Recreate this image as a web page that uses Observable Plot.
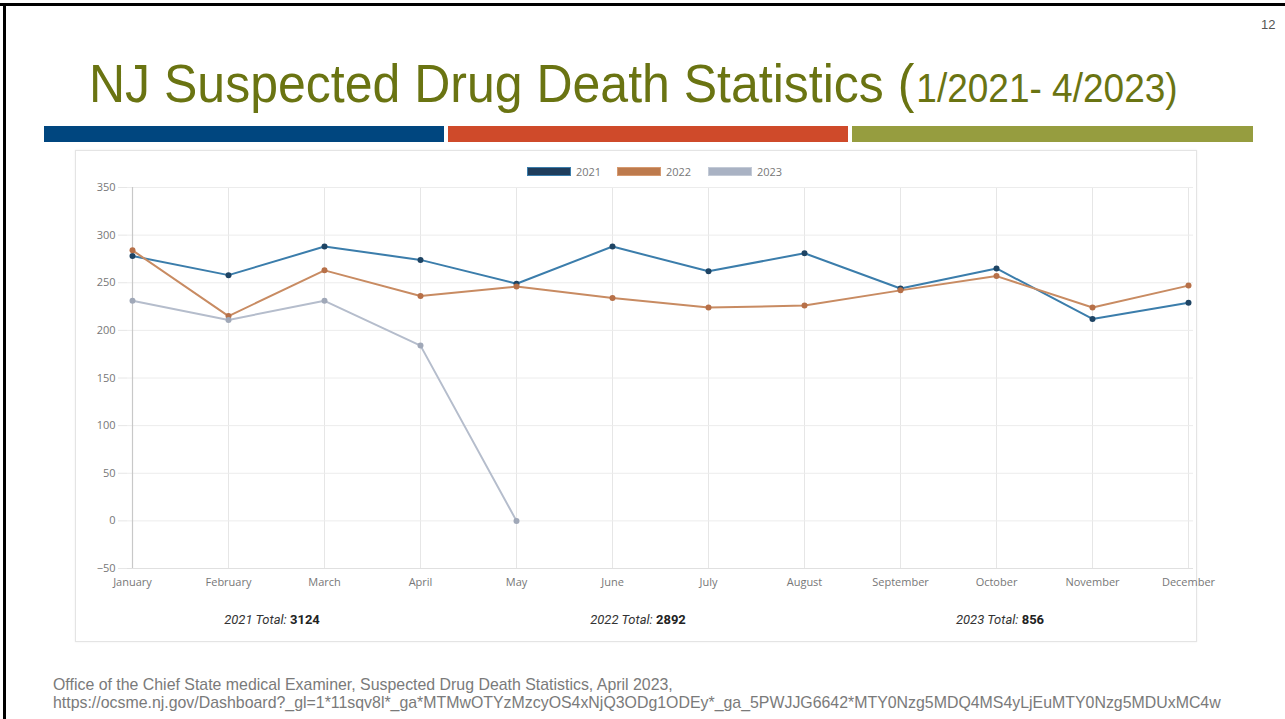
<!DOCTYPE html>
<html>
<head>
<meta charset="utf-8">
<script src="https://cdn.jsdelivr.net/npm/d3@7"></script>
<script src="https://cdn.jsdelivr.net/npm/@observablehq/plot@0.6"></script>
<style>
  html, body { margin: 0; padding: 0; background: #fff; }
  body { width: 1285px; height: 719px; position: relative; overflow: hidden; font-family: "Liberation Sans", Arial, sans-serif; }
  .abs { position: absolute; }
  #frameTop { left: 0; top: 3px; width: 1285px; height: 3px; background: #000; }
  #frameLeft { left: 3px; top: 3px; width: 3px; height: 716px; background: #000; }
  #pageno { left: 1261px; top: 17px; font-size: 13px; color: #555; }
  #title { left: 89px; top: 53px; font-size: 50px; line-height: 56px; color: #6a7412; white-space: nowrap; transform: scaleY(1.08); transform-origin: left top; }
  #title .small { font-size: 37px; margin-left: 2px; }
  .bar { top: 126px; height: 16px; }
  #box { left: 75px; top: 150px; width: 1120px; height: 490px; border: 1px solid #e4e4e4; box-shadow: 0 0 2px #eee; }
  #chart { left: 75px; top: 150px; }
  .legend { top: 164px; font-family: "Open Sans", sans-serif; font-size: 11px; color: #777; display: flex; align-items: center; }
  .swatch { width: 44px; height: 9px; margin-right: 5px; box-sizing: border-box; }
  .total { top: 612px; font-family: Roboto, sans-serif; font-size: 13px; color: #333; white-space: nowrap; transform: translateX(-50%); }
  .total i { font-style: italic; }
  .total b { font-weight: bold; color: #222; }
  #footer { left: 53px; top: 676px; font-size: 15.9px; color: #7a7a7a; line-height: 18px; white-space: nowrap; }
</style>
</head>
<body>
<div id="frameTop" class="abs"></div>
<div id="frameLeft" class="abs"></div>
<div id="pageno" class="abs">12</div>
<div id="title" class="abs">NJ Suspected Drug Death Statistics (<span class="small">1/2021- 4/2023)</span></div>
<div class="abs bar" style="left:44px;width:400px;background:#00467f;"></div>
<div class="abs bar" style="left:448px;width:400px;background:#cf4a2a;"></div>
<div class="abs bar" style="left:852px;width:401px;background:#969d3f;"></div>
<div id="box" class="abs"></div>
<div id="chart" class="abs"></div>
<div id="legend"></div>
<div id="totals"></div>
<div id="footer" class="abs">Office of the Chief State medical Examiner, Suspected Drug Death Statistics, April 2023,<br>https://ocsme.nj.gov/Dashboard?_gl=1*11sqv8l*_ga*MTMwOTYzMzcyOS4xNjQ3ODg1ODEy*_ga_5PWJJG6642*MTY0Nzg5MDQ4MS4yLjEuMTY0Nzg5MDUxMC4w</div>

<script>
// ---- data ----
const months = ["January","February","March","April","May","June","July","August","September","October","November","December"];
const deaths2021 = [278, 258, 288, 274, 249, 288, 262, 281, 244, 265, 212, 229];
const deaths2022 = [284, 215, 263, 236, 246, 234, 224, 226, 242, 257, 224, 247];
const deaths2023 = [231, 211, 231, 184, 0];
const years = ["2021", "2022", "2023"];
const yTicks = [-50, 0, 50, 100, 150, 200, 250, 300, 350];
const totalYears = ["2021", "2022", "2023"];
const totalValues = [3124, 2892, 856];

const lineColors = {"2021": "#3b7dab", "2022": "#c88b62", "2023": "#b5bdcc"};
const dotColors = {"2021": "#1e4464", "2022": "#b77048", "2023": "#a0a8b8"};
const swatchFill = {"2021": "#1f3d5c", "2022": "#bd7a4d", "2023": "#a9b2c3"};
const swatchStroke = {"2021": "#3b7dab", "2022": "#d69a70", "2023": "#c3cad6"};

const rows = [];
[deaths2021, deaths2022, deaths2023].forEach((arr, i) => {
  arr.forEach((v, j) => rows.push({year: years[i], month: months[j], value: v}));
});

const chart = Plot.plot({
  width: 1180,
  height: 491,
  marginLeft: 52,
  marginRight: 62,
  marginTop: 37,
  marginBottom: 73,
  style: {fontFamily: "Open Sans, sans-serif", fontSize: "11px", background: "transparent", overflow: "visible"},
  x: {type: "point", domain: months, padding: 0, label: null},
  y: {domain: [-50, 350], ticks: yTicks, label: null},
  marks: [
    Plot.gridX(months, {stroke: "#e6e6e6", strokeOpacity: 1}),
    Plot.gridY(yTicks, {stroke: "#ececec", strokeOpacity: 1}),
    Plot.axisY(yTicks, {tickSize: 9, stroke: "#e6e6e6", fill: "#777", tickPadding: 3, label: null}),
    Plot.axisX(months, {tickSize: 0, fill: "#777", tickPadding: 10, label: null}),
    Plot.ruleX([months[0]], {stroke: "#c8c8c8", strokeWidth: 1.2}),
    Plot.ruleY([-50], {stroke: "#e0e0e0"}),
    Plot.line(rows, {x: "month", y: "value", z: "year", stroke: d => lineColors[d.year], strokeWidth: 2}),
    Plot.dot(rows, {x: "month", y: "value", fill: d => dotColors[d.year], r: 3})
  ]
});
document.getElementById("chart").appendChild(chart);

// legend
const legendX = [527, 617, 708];
const legend = document.getElementById("legend");
years.forEach((y, i) => {
  const d = document.createElement("div");
  d.className = "abs legend";
  d.style.left = legendX[i] + "px";
  d.innerHTML = `<div class="swatch" style="background:${swatchFill[y]};border:1.5px solid ${swatchStroke[y]}"></div>${y}`;
  legend.appendChild(d);
});

// totals
const totalX = [272, 638, 1000];
const totals = document.getElementById("totals");
totalYears.forEach((y, i) => {
  const d = document.createElement("div");
  d.className = "abs total";
  d.style.left = totalX[i] + "px";
  d.innerHTML = `<i>${y} Total:</i> <b>${totalValues[i]}</b>`;
  totals.appendChild(d);
});
</script>
</body>
</html>
